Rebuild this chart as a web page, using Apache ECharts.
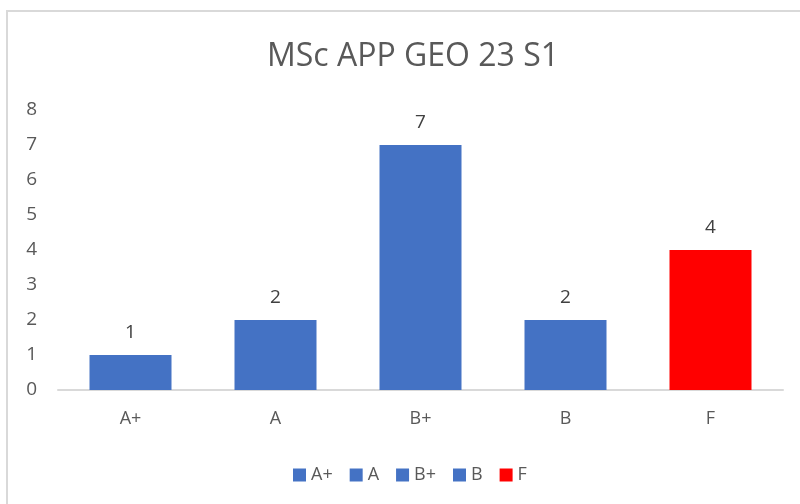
<!DOCTYPE html>
<html>
<head>
<meta charset="utf-8">
<script src="https://cdn.jsdelivr.net/npm/echarts@6/dist/echarts.min.js"></script>
<style>
html,body{margin:0;padding:0;background:#fff;}
#c{width:800px;height:504px;}
</style>
</head>
<body>
<div id="c"></div>
<script>
var categories = ['A+', 'A', 'B+', 'B', 'F'];
var values = [1, 2, 7, 2, 4];
var colors = ['#4472C4', '#4472C4', '#4472C4', '#4472C4', '#FF0000'];
var yTicks = [0, 1, 2, 3, 4, 5, 6, 7, 8];

var font = 'Open Sans';
var series = categories.map(function (name, i) {
  return {
    name: name,
    type: 'bar',
    stack: 'all',
    barWidth: 82,
    itemStyle: { color: colors[i] },
    label: {
      show: true, position: 'top', distance: 13,
      color: '#404040', fontSize: 19, fontFamily: font
    },
    data: categories.map(function (c, j) { return j === i ? values[i] : '-'; })
  };
});

var chart = echarts.init(document.getElementById('c'));
chart.setOption({
  animation: false,
  backgroundColor: '#fff',
  title: {
    text: 'MSc APP GEO 23 S1', left: 262, top: 36,
    textStyle: { fontFamily: font, fontSize: 32, fontWeight: 'normal', color: '#595959' }
  },
  legend: {
    bottom: 15, left: 288, itemWidth: 13, itemHeight: 13, itemGap: 17,
    icon: 'rect',
    textStyle: { fontFamily: font, fontSize: 18, color: '#595959', padding: [0, 0, 0, 0] },
    data: categories
  },
  grid: { left: 58, right: 17, top: 110, bottom: 114, containLabel: false },
  xAxis: {
    type: 'category', data: categories,
    axisLine: { lineStyle: { color: '#d9d9d9', width: 2 } },
    axisTick: { show: false },
    axisLabel: { color: '#595959', fontFamily: font, fontSize: 18, margin: 20 }
  },
  yAxis: {
    type: 'value', min: 0, max: yTicks[yTicks.length - 1], interval: 1,
    splitLine: { show: false },
    axisLine: { show: false }, axisTick: { show: false },
    axisLabel: { color: '#595959', fontFamily: font, fontSize: 19, margin: 21 }
  },
  graphic: [{
    type: 'rect', shape: { x: 7, y: 11, width: 900, height: 700 },
    style: { fill: 'none', stroke: '#d9d9d9', lineWidth: 2 }, silent: true
  }],
  series: series
});
</script>
</body>
</html>
